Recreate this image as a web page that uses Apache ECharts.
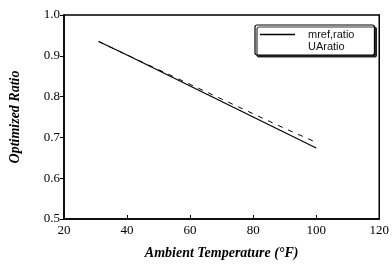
<!DOCTYPE html>
<html>
<head>
<meta charset="utf-8">
<script src="https://cdn.jsdelivr.net/npm/echarts@6/dist/echarts.min.js"></script>
<style>
  html, body { margin: 0; padding: 0; background: #fff; }
  #chart { width: 392px; height: 270px; }
</style>
</head>
<body>
<div id="chart"></div>
<script>
// values
var temps = [31, 40, 50, 60, 70, 80, 90, 100];
var mrefRatio = [0.935, 0.902, 0.864, 0.826, 0.788, 0.750, 0.712, 0.674];
var uaRatio = [0.935, 0.902, 0.866, 0.830, 0.794, 0.758, 0.722, 0.688];
var seriesNames = ['mref,ratio', 'UAratio'];

function pairs(xs, ys) {
    var out = [];
    for (var i = 0; i < xs.length; i++) {
        out.push([xs[i], ys[i]]);
    }
    return out;
}

var serif = 'Liberation Serif';
var chart = echarts.init(document.getElementById('chart'));

var options = {
    animation: false,
    backgroundColor: '#fff',
    grid: {
        left: 61,
        right: 10,
        top: 15,
        bottom: 51,
        show: true,
        borderColor: '#000',
        borderWidth: 1.5
    },
    legend: {
        orient: 'vertical',
        left: 255,
        top: 25,
        padding: [4, 20, 3, 5],
        itemGap: 1,
        itemWidth: 35,
        itemHeight: 1.3,
        icon: 'rect',
        backgroundColor: '#fff',
        borderColor: '#000',
        borderWidth: 1.2,
        borderRadius: 2,
        shadowColor: 'rgba(0,0,0,0.8)',
        shadowOffsetX: 2,
        shadowOffsetY: 2,
        shadowBlur: 0,
        textStyle: {
            fontFamily: 'Liberation Sans',
            fontSize: 11,
            color: '#111',
            padding: [0, 0, 0, 8]
        },
        data: [
            { name: seriesNames[0] },
            { name: seriesNames[1], itemStyle: { opacity: 0 } }
        ]
    },
    xAxis: {
        type: 'value',
        min: 20,
        max: 120,
        interval: 20,
        name: 'Ambient Temperature (°F)',
        nameLocation: 'middle',
        nameGap: 27,
        nameTextStyle: {
            fontFamily: serif,
            fontStyle: 'italic',
            fontWeight: 'bold',
            fontSize: 14,
            color: '#000'
        },
        axisLine: { onZero: false, lineStyle: { color: '#000', width: 1.5 } },
        axisTick: { inside: true, length: 4, lineStyle: { color: '#000' } },
        axisLabel: { fontFamily: serif, fontSize: 13, color: '#000', margin: 5 },
        splitLine: { show: false }
    },
    yAxis: {
        type: 'value',
        min: 0.5,
        max: 1.0,
        interval: 0.1,
        name: 'Optimized Ratio',
        nameLocation: 'middle',
        nameGap: 42,
        nameTextStyle: {
            fontFamily: serif,
            fontStyle: 'italic',
            fontWeight: 'bold',
            fontSize: 14,
            color: '#000'
        },
        axisLine: { onZero: false, lineStyle: { color: '#000', width: 1.5 } },
        axisTick: { inside: false, length: 4, lineStyle: { color: '#000' } },
        axisLabel: {
            fontFamily: serif,
            fontSize: 13,
            color: '#000',
            margin: 4,
            formatter: function (v) { return v.toFixed(1); }
        },
        splitLine: { show: false }
    },
    series: [
        {
            name: seriesNames[0],
            type: 'line',
            symbol: 'none',
            data: pairs(temps, mrefRatio),
            lineStyle: { color: '#000', width: 1.2 },
            itemStyle: { color: '#000' }
        },
        {
            name: seriesNames[1],
            type: 'line',
            symbol: 'none',
            data: pairs(temps, uaRatio),
            lineStyle: { color: '#000', width: 1, type: [5, 6] },
            itemStyle: { color: '#000' }
        }
    ]
};

chart.setOption(options);
</script>
</body>
</html>
